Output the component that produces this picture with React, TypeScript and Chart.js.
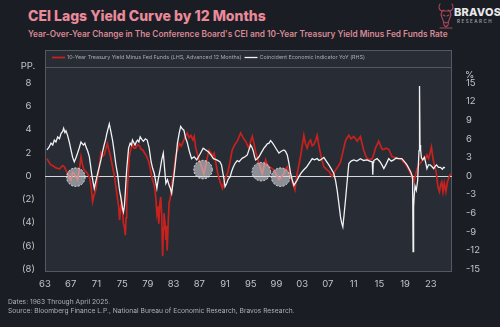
import { useEffect, useRef } from "react";
import { Chart, registerables } from "chart.js";

Chart.register(...registerables);

const FONT = "Inter, 'Noto Sans', sans-serif";

// Coincident Economic Indicator, year-over-year change (%), right axis
const ceiYears = [
  1963.3, 1963.6, 1963.93, 1964.2, 1964.45, 1964.7, 1964.97, 1965.25, 1965.5, 1965.75, 1965.9, 1966.1,
  1966.26, 1966.5, 1966.8, 1967.04, 1967.3, 1967.55, 1967.8, 1968.07, 1968.35, 1968.6, 1968.8, 1969.0,
  1969.2, 1969.37, 1969.65, 1969.9, 1970.1, 1970.25, 1970.45, 1970.66, 1970.9, 1971.18, 1971.45, 1971.7,
  1971.95, 1972.2, 1972.45, 1972.63, 1972.85, 1973.0, 1973.2, 1973.5, 1973.75, 1974.0, 1974.3, 1974.55,
  1974.75, 1974.9, 1975.05, 1975.2, 1975.35, 1975.45, 1975.7, 1976.0, 1976.25, 1976.45, 1976.6, 1976.8,
  1977.0, 1977.2, 1977.4, 1977.6, 1977.8, 1978.05, 1978.3, 1978.6, 1978.9, 1979.2, 1979.5, 1979.75,
  1980.0, 1980.2, 1980.4, 1980.6, 1980.9, 1981.15, 1981.4, 1981.6, 1981.8, 1982.05, 1982.3, 1982.5,
  1982.7, 1982.9, 1983.1, 1983.35, 1983.6, 1983.85, 1984.1, 1984.35, 1984.6, 1984.85, 1985.1, 1985.45,
  1985.8, 1986.2, 1986.6, 1987.1, 1987.35, 1987.6, 1988.0, 1988.4, 1988.8, 1989.2, 1989.7, 1990.2,
  1990.45, 1990.65, 1990.85, 1991.0, 1991.25, 1991.5, 1991.8, 1992.05, 1992.3, 1992.6, 1992.9, 1993.2,
  1993.43, 1993.7, 1993.95, 1994.2, 1994.46, 1994.75, 1994.98, 1995.2, 1995.4, 1995.6, 1995.76, 1996.0,
  1996.28, 1996.6, 1997.05, 1997.3, 1997.57, 1997.85, 1998.09, 1998.35, 1998.6, 1998.95, 1999.38, 1999.75,
  2000.16, 2000.4, 2000.68, 2000.95, 2001.2, 2001.45, 2001.71, 2001.95, 2002.2, 2002.49, 2002.85, 2003.26,
  2003.65, 2004.04, 2004.3, 2004.56, 2004.9, 2005.33, 2005.6, 2005.85, 2006.1, 2006.37, 2006.75, 2007.15,
  2007.5, 2007.92, 2008.2, 2008.44, 2008.7, 2008.96, 2009.15, 2009.32, 2009.5, 2009.73, 2010.0, 2010.25,
  2010.6, 2011.03, 2011.5, 2012.06, 2012.55, 2013.1, 2013.5, 2013.9, 2013.98, 2014.05, 2014.13, 2014.65,
  2015.1, 2015.4, 2015.7, 2016.1, 2016.46, 2016.85, 2017.24, 2017.6, 2018.0, 2018.5, 2019.0, 2019.3,
  2019.6, 2019.9, 2020.1, 2020.17, 2020.25, 2020.33, 2020.42, 2020.55, 2020.75, 2020.95, 2021.17, 2021.25,
  2021.33, 2021.42, 2021.55, 2021.75, 2022.0, 2022.2, 2022.4, 2022.65, 2022.9, 2023.2, 2023.45, 2023.7,
  2023.9, 2024.2, 2024.5, 2024.8, 2025.0, 2025.2,
];
const ceiValues = [
  4.2, 4.6, 5.3, 5.0, 5.8, 5.5, 6.3, 6.0, 6.9, 7.2, 7.7, 7.0,
  7.3, 6.6, 5.4, 4.2, 3.0, 2.3, 2.9, 3.7, 4.6, 5.5, 5.2, 5.0,
  5.3, 4.7, 4.0, 3.1, 1.6, 0.4, -0.8, -2.0, -0.9, 0.4, 1.5, 2.6,
  3.9, 5.0, 6.0, 6.9, 7.8, 8.4, 7.4, 5.8, 4.0, 2.0, 0.2, -2.0,
  -3.2, -4.1, -5.2, -5.8, -4.8, -3.3, 1.0, 4.5, 5.3, 5.0, 5.8, 5.4,
  5.0, 5.5, 5.8, 5.5, 6.3, 5.9, 5.6, 6.0, 5.8, 4.5, 2.3, 1.2,
  0.4, -0.8, -2.0, -0.6, 1.0, 2.6, 3.7, 1.2, -1.2, -0.6, -1.5, -2.0,
  -2.8, -1.2, 0.4, 2.8, 5.3, 6.8, 8.0, 7.6, 7.4, 6.2, 5.5, 4.0,
  2.8, 3.1, 2.6, 3.5, 4.0, 4.5, 4.2, 3.9, 3.4, 2.8, 2.6, 2.3,
  1.8, 0.6, -0.6, -1.7, -1.2, -0.5, -0.1, 0.8, 1.5, 2.1, 2.5, 2.3,
  2.6, 2.9, 3.0, 3.2, 3.4, 4.3, 5.0, 4.6, 4.0, 3.1, 2.6, 2.8,
  3.1, 3.7, 4.5, 4.8, 5.2, 5.3, 5.7, 5.4, 5.0, 4.4, 3.7, 4.0,
  4.2, 4.0, 3.4, 2.0, 0.4, -0.6, -1.5, -1.1, -0.7, -0.1, 0.5, 1.0,
  1.4, 2.0, 2.4, 2.8, 2.6, 2.8, 2.5, 2.6, 2.8, 3.0, 2.4, 1.8,
  1.2, 0.4, -0.8, -2.3, -4.4, -6.6, -7.6, -8.2, -6.4, -3.9, -0.8, 2.0,
  2.4, 2.6, 2.4, 2.8, 2.5, 2.6, 2.4, 2.3, 0.2, 2.2, 2.5, 2.8,
  2.3, 1.8, 1.2, 2.0, 2.8, 2.4, 2.6, 2.9, 2.8, 2.8, 2.2, 1.8,
  1.2, 0.6, 0.0, -0.5, -12.2, -5.0, -3.2, -1.6, -2.3, -0.8, 4.1, 14.5,
  5.0, 4.2, 2.9, 2.6, 3.0, 2.2, 1.2, 1.8, 1.8, 1.5, 1.2, 1.6,
  1.8, 1.4, 1.4, 1.1, 1.4, 1.3,
];

// 10-Year Treasury yield minus Fed Funds (pp), shifted forward 12 months, left axis
const spreadYears = [
  1963.3, 1963.6, 1963.93, 1964.2, 1964.45, 1964.7, 1964.97, 1965.25, 1965.5, 1965.75, 1966.0, 1966.25,
  1966.52, 1966.8, 1967.04, 1967.3, 1967.55, 1967.8, 1968.07, 1968.35, 1968.6, 1968.85, 1969.1, 1969.5,
  1969.9, 1970.15, 1970.4, 1970.65, 1970.9, 1971.15, 1971.44, 1971.7, 1971.95, 1972.2, 1972.45, 1972.7,
  1972.95, 1973.2, 1973.5, 1973.8, 1974.05, 1974.3, 1974.45, 1974.6, 1974.75, 1974.9, 1975.05, 1975.2,
  1975.35, 1975.5, 1975.6, 1975.7, 1975.9, 1976.1, 1976.35, 1976.6, 1976.85, 1977.1, 1977.4, 1977.7,
  1977.95, 1978.2, 1978.45, 1978.7, 1978.95, 1979.2, 1979.45, 1979.7, 1979.9, 1980.1, 1980.25, 1980.4,
  1980.55, 1980.7, 1980.85, 1981.0, 1981.15, 1981.3, 1981.4, 1981.5, 1981.65, 1981.8, 1981.9, 1982.0,
  1982.15, 1982.3, 1982.45, 1982.6, 1982.8, 1983.0, 1983.15, 1983.3, 1983.6, 1983.9, 1984.2, 1984.6,
  1984.85, 1985.1, 1985.4, 1985.7, 1986.0, 1986.2, 1986.45, 1986.7, 1986.95, 1987.2, 1987.45, 1987.7,
  1988.0, 1988.25, 1988.5, 1988.8, 1989.05, 1989.3, 1989.55, 1989.8, 1990.05, 1990.3, 1990.6, 1990.85,
  1991.1, 1991.4, 1991.7, 1992.1, 1992.5, 1992.9, 1993.2, 1993.43, 1993.8, 1994.2, 1994.45, 1994.7,
  1994.95, 1995.24, 1995.5, 1995.76, 1996.0, 1996.28, 1996.55, 1996.8, 1997.05, 1997.31, 1997.55, 1997.83,
  1998.2, 1998.6, 1999.0, 1999.38, 1999.75, 2000.16, 2000.4, 2000.68, 2000.95, 2001.2, 2001.5, 2001.87,
  2002.05, 2002.23, 2002.5, 2002.75, 2003.0, 2003.26, 2003.5, 2003.78, 2004.05, 2004.3, 2004.55, 2004.8,
  2005.05, 2005.33, 2005.6, 2005.85, 2006.1, 2006.37, 2006.75, 2007.15, 2007.4, 2007.66, 2007.9, 2008.18,
  2008.55, 2008.96, 2009.3, 2009.55, 2009.73, 2010.0, 2010.25, 2010.6, 2011.03, 2011.3, 2011.55, 2011.8,
  2012.06, 2012.3, 2012.58, 2012.85, 2013.1, 2013.5, 2013.9, 2014.15, 2014.4, 2014.65, 2014.9, 2015.2,
  2015.45, 2015.7, 2016.05, 2016.46, 2016.7, 2016.98, 2017.35, 2017.76, 2018.1, 2018.5, 2018.75, 2019.0,
  2019.3, 2019.6, 2019.85, 2020.1, 2020.25, 2020.4, 2020.6, 2020.8, 2021.1, 2021.5, 2021.75, 2022.0,
  2022.2, 2022.4, 2022.65, 2022.85, 2023.1, 2023.3, 2023.45, 2023.6, 2023.8, 2023.95, 2024.1, 2024.35,
  2024.55, 2024.7, 2024.9, 2025.1, 2025.35, 2025.6, 2025.9, 2026.15,
];
const spreadValues = [
  1.5, 1.2, 0.95, 0.9, 0.8, 0.7, 0.66, 0.6, 0.75, 0.9, 0.8, 0.5,
  0.23, -0.2, -0.34, 0.3, 0.23, -0.1, -0.3, 0.6, 1.66, 0.9, 0.5, 0.3,
  -0.06, -0.8, -2.2, -1.6, -1.2, -0.2, 0.8, 2.0, 1.7, 1.8, 2.3, 2.8,
  2.2, 1.66, 0.8, 0.0, -1.0, -2.06, -2.6, -3.8, -2.8, -2.1, -3.0, -4.1,
  -4.4, -5.1, -3.6, -2.3, -0.2, 1.66, 2.3, 2.7, 2.4, 2.4, 2.7, 2.6,
  2.3, 2.24, 2.0, 1.8, 1.5, 1.1, 0.4, -0.3, -0.6, -1.2, -2.0, -3.2,
  -2.6, -4.1, -2.4, -1.8, -3.4, -6.9, -4.5, -3.2, -4.0, -5.5, -4.3, -6.4,
  -4.2, -2.3, -2.0, -1.3, -0.4, 0.2, 0.9, 1.66, 2.2, 2.8, 2.6, 3.1,
  3.4, 3.7, 3.3, 3.5, 3.1, 3.4, 2.4, 1.9, 1.4, 1.1, 0.6, 0.2,
  0.9, 1.6, 2.2, 2.0, 1.7, 1.95, 1.2, 0.4, -0.2, -0.6, -1.06, -0.5,
  -0.1, 0.23, 1.0, 2.2, 2.7, 3.0, 3.4, 3.7, 3.3, 3.0, 2.7, 2.4,
  2.9, 3.4, 2.8, 2.1, 1.6, 1.1, 0.6, 0.2, 0.8, 1.4, 1.0, 0.8,
  0.7, 0.5, 0.1, -0.3, -0.1, 0.23, 0.6, 0.8, 0.3, -0.06, -0.6, -1.2,
  -0.4, 0.23, 1.0, 1.7, 2.6, 3.5, 2.8, 2.4, 2.9, 3.1, 2.6, 2.7,
  3.0, 3.5, 2.6, 1.95, 1.3, 0.8, 0.6, 0.4, 0.2, -0.06, 0.2, 0.5,
  0.8, 1.2, 2.0, 2.6, 3.0, 3.3, 3.5, 3.2, 3.4, 3.2, 3.0, 3.2,
  3.4, 2.8, 2.2, 1.8, 1.5, 1.4, 1.5, 1.9, 2.4, 2.7, 3.0, 2.6,
  2.3, 2.3, 2.4, 2.3, 2.0, 1.66, 1.6, 1.5, 1.5, 1.4, 1.2, 1.1,
  0.8, 0.5, 0.2, -0.06, -0.3, -0.5, 0.0, 0.5, 0.9, 1.2, 1.4, 1.66,
  1.5, 1.8, 1.5, 1.9, 2.5, 1.66, 1.2, 0.8, 0.5, -0.2, -0.9, -1.35,
  -0.7, -0.5, -1.35, -0.6, -1.35, -0.5, 0.0, 0.2,
];

const xTickYears = [1963, 1967, 1971, 1975, 1979, 1983, 1987, 1991, 1995, 1999, 2003, 2007, 2011, 2015, 2019, 2023];
const leftTicks = [-8, -6, -4, -2, 0, 2, 4, 6, 8];
const rightTicks = [-15, -12, -9, -6, -3, 0, 3, 6, 9, 12, 15];

// Highlighted spots where the spread dips toward zero (year, spread value)
const circleYears = [1967.8, 1987.58, 1996.65, 1999.65];
const circleValues = [-0.1, 0.55, 0.37, -0.1];

const legendLabels = [
  "10-Year Treasury Yield Minus Fed Funds (LHS, Advanced 12 Months)",
  "Coincident Economic Indicator YoY (RHS)",
];

const RED = "#c8221e";
const WHITE = "#f2f2f2";
const TICK_COLOR = "#c2c4c8";
const PLOT_BG = "#272c35";
const PAGE_BG = "#1a1d23";
const FRAME = "#535862";

const framePlugin = {
  id: "frame",
  beforeDraw(chart: any) {
    const { ctx, chartArea } = chart;
    const { left, right, top, bottom } = chartArea;
    const boxTop = top - 17;
    ctx.save();
    ctx.fillStyle = PLOT_BG;
    ctx.fillRect(left, boxTop, right - left, bottom - boxTop);
    ctx.strokeStyle = FRAME;
    ctx.lineWidth = 1;
    ctx.strokeRect(left + 0.5, boxTop + 0.5, right - left - 1, bottom - boxTop - 1);
    ctx.beginPath();
    ctx.moveTo(left, top + 0.5);
    ctx.lineTo(right, top + 0.5);
    ctx.stroke();

    // legend band
    const ly = boxTop + 7.5;
    ctx.font = `5.4px ${FONT}`;
    ctx.textBaseline = "middle";
    ctx.textAlign = "left";
    let x = left + 7;
    const colors = [RED, WHITE];
    legendLabels.forEach((label, i) => {
      ctx.strokeStyle = colors[i];
      ctx.lineWidth = i === 0 ? 1.8 : 1.3;
      ctx.beginPath();
      ctx.moveTo(x, ly);
      ctx.lineTo(x + 13, ly);
      ctx.stroke();
      ctx.fillStyle = "#a9abb0";
      ctx.fillText(label, x + 15, ly);
      x += 15 + ctx.measureText(label).width + 3;
    });

    // axis unit captions
    ctx.fillStyle = TICK_COLOR;
    ctx.font = `9.5px ${FONT}`;
    ctx.textAlign = "center";
    ctx.fillText("PP.", 28, 66);
    ctx.textAlign = "left";
    ctx.fillText("%", right + 13, 75);
    ctx.restore();
  },
  beforeDatasetsDraw(chart: any) {
    const { ctx, chartArea, scales } = chart;
    const y = Math.round(scales.yLeft.getPixelForValue(0)) + 0.5;
    ctx.save();
    ctx.strokeStyle = "#d6d8dc";
    ctx.lineWidth = 1;
    ctx.beginPath();
    ctx.moveTo(chartArea.left, y);
    ctx.lineTo(chartArea.right, y);
    ctx.stroke();
    ctx.restore();
  },
  afterDatasetsDraw(chart: any) {
    const { ctx, scales } = chart;
    ctx.save();
    circleYears.forEach((yr, i) => {
      const cx = scales.x.getPixelForValue(yr);
      const cy = scales.yLeft.getPixelForValue(circleValues[i]);
      ctx.beginPath();
      ctx.arc(cx, cy, 9.3, 0, Math.PI * 2);
      ctx.fillStyle = "rgba(225,226,230,0.55)";
      ctx.fill();
      ctx.setLineDash([2, 1.5]);
      ctx.strokeStyle = "rgba(235,236,240,0.85)";
      ctx.lineWidth = 1;
      ctx.stroke();
    });
    ctx.restore();
  },
};

function BullMark() {
  return (
    <svg width="18" height="26" viewBox="0 0 18 26" style={{ position: "absolute", left: 437, top: 3 }}>
      <g fill="none" stroke="#a9465a" strokeWidth="1.1" strokeLinejoin="round" strokeLinecap="round">
        <path d="M3 1 C1 4 2 7 5 8 L7 7" />
        <path d="M15 1 C17 4 16 7 13 8 L11 7" />
        <path d="M5 8 L4 12 L6 17 L7 22 L9 24 L11 22 L12 17 L14 12 L13 8 Z" />
        <path d="M6 12 L8 13 M12 12 L10 13" />
        <path d="M7 19 L9 20 L11 19" />
        <path d="M3 25 L15 25" />
      </g>
    </svg>
  );
}

export default function App() {
  const canvasRef = useRef<HTMLCanvasElement | null>(null);

  useEffect(() => {
    const canvas = canvasRef.current;
    if (!canvas) return;
    const tickFont = { family: FONT, size: 9.5 };
    const chart = new Chart(canvas, {
      type: "line",
      data: {
        datasets: [
          {
            label: legendLabels[1],
            data: ceiYears.map((x, i) => ({ x, y: ceiValues[i] })),
            yAxisID: "yRight",
            borderColor: WHITE,
            borderWidth: 1.3,
            pointRadius: 0,
            tension: 0,
          },
          {
            label: legendLabels[0],
            data: spreadYears.map((x, i) => ({ x, y: spreadValues[i] })),
            yAxisID: "yLeft",
            borderColor: RED,
            borderWidth: 1.7,
            pointRadius: 0,
            tension: 0,
          },
        ],
      },
      options: {
        animation: false,
        responsive: false,
        maintainAspectRatio: false,
        layout: { padding: { top: 67, left: 0, right: 0, bottom: 0 } },
        plugins: {
          legend: { display: false },
          tooltip: { enabled: false },
        },
        scales: {
          x: {
            type: "linear",
            min: 1963,
            max: 2026.3,
            grid: { display: false, drawTicks: false },
            border: { display: false },
            afterBuildTicks: (s: any) => {
              s.ticks = xTickYears.map((value) => ({ value }));
            },
            afterFit: (s: any) => {
              s.height = 55;
            },
            ticks: {
              autoSkip: false,
              maxRotation: 0,
              padding: 6,
              color: TICK_COLOR,
              font: tickFont,
              callback: (v: any) => String(Number(v) % 100).padStart(2, "0"),
            },
          },
          yLeft: {
            type: "linear",
            position: "left",
            min: -8.26,
            max: 9.38,
            grid: { display: false, drawTicks: false },
            border: { display: false },
            afterBuildTicks: (s: any) => {
              s.ticks = leftTicks.map((value) => ({ value }));
            },
            afterFit: (s: any) => {
              s.width = 45;
            },
            ticks: {
              crossAlign: "center",
              padding: 10,
              color: TICK_COLOR,
              font: tickFont,
              callback: (v: any) => (Number(v) < 0 ? `(${-Number(v)})` : String(v)),
            },
          },
          yRight: {
            type: "linear",
            position: "right",
            min: -15.48,
            max: 17.58,
            grid: { display: false, drawTicks: false },
            border: { display: false },
            afterBuildTicks: (s: any) => {
              s.ticks = rightTicks.map((value) => ({ value }));
            },
            afterFit: (s: any) => {
              s.width = 48;
            },
            ticks: {
              crossAlign: "near",
              padding: 14,
              color: TICK_COLOR,
              font: tickFont,
              callback: (v: any) => String(v),
            },
          },
        },
      },
      plugins: [framePlugin],
    } as any);
    return () => chart.destroy();
  }, []);

  return (
    <div
      style={{
        position: "absolute",
        left: 0,
        top: 0,
        width: 500,
        height: 327,
        background: PAGE_BG,
        overflow: "hidden",
        fontFamily: FONT,
      }}
    >
      <div
        style={{
          position: "absolute",
          left: 28,
          top: 9,
          fontSize: 14,
          lineHeight: "14px",
          fontWeight: 800,
          color: "#e98a9a",
          whiteSpace: "nowrap",
        }}
      >
        CEI Lags Yield Curve by 12 Months
      </div>
      <div
        style={{
          position: "absolute",
          left: 28,
          top: 30,
          fontSize: 8.3,
          lineHeight: "8px",
          fontWeight: 600,
          color: "#d98995",
          whiteSpace: "nowrap",
        }}
      >
        Year-Over-Year Change in The Conference Board's CEI and 10-Year Treasury Yield Minus Fed Funds Rate
      </div>
      <BullMark />
      <div
        style={{
          position: "absolute",
          left: 454,
          top: 7,
          fontSize: 11,
          lineHeight: "11px",
          fontWeight: 800,
          color: "#e8e8ea",
          letterSpacing: 0.2,
        }}
      >
        BRAVOS
      </div>
      <div
        style={{
          position: "absolute",
          left: 457,
          top: 19,
          fontSize: 4.5,
          lineHeight: "5px",
          fontWeight: 600,
          color: "#9a9ca2",
          letterSpacing: 1.5,
        }}
      >
        RESEARCH
      </div>
      <canvas ref={canvasRef} width={500} height={327} style={{ position: "absolute", left: 0, top: 0 }} />
      <div
        style={{
          position: "absolute",
          left: 8,
          top: 298,
          fontSize: 6.7,
          lineHeight: "9px",
          color: "#aeb0b5",
          whiteSpace: "nowrap",
        }}
      >
        <div>Dates: 1963 Through April 2025.</div>
        <div>Source: Bloomberg Finance L.P., National Bureau of Economic Research, Bravos Research.</div>
      </div>
    </div>
  );
}
